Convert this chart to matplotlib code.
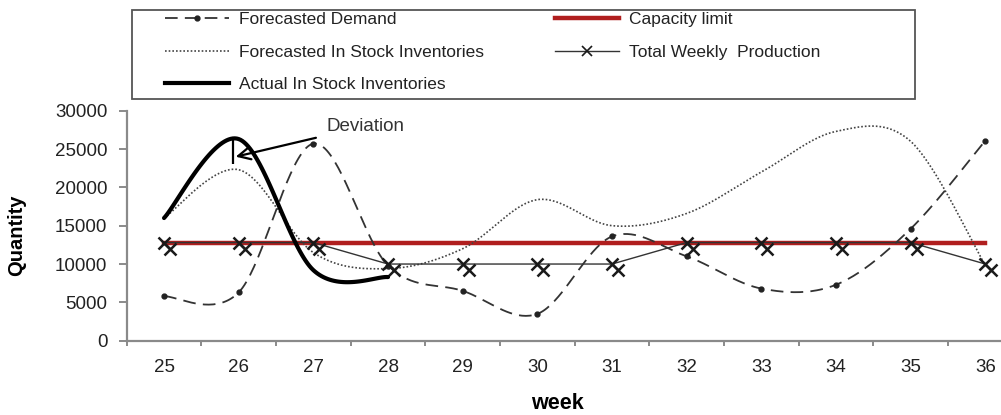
import numpy as np
import matplotlib
matplotlib.use("Agg")
import matplotlib.pyplot as plt
from matplotlib.lines import Line2D
from matplotlib.patches import Rectangle
from matplotlib.transforms import ScaledTranslation

plt.rcParams["font.family"] = ["Liberation Sans", "DejaVu Sans"]

weeks = [25, 26, 27, 28, 29, 30, 31, 32, 33, 34, 35, 36]
forecast_demand = [5800, 6300, 25700, 9800, 6500, 3500, 13600, 11000, 6800, 7300, 14600, 26100]
forecast_stock = [16000, 22300, 11500, 9400, 12000, 18400, 15000, 16600, 22000, 27300, 26000, 9800]
actual_weeks = [25, 26, 27, 28]
actual_stock = [16000, 26300, 9200, 8300]
weekly_production = [12800, 12800, 12800, 10000, 10000, 10000, 10000, 12800, 12800, 12800, 12800, 10000]
capacity_limit = 12800


def smooth(xs, ys, n=40):
    # bezier smoothing through every point, like a spreadsheet's smoothed line
    x = np.asarray(xs, float)
    y = np.asarray(ys, float)
    xp = np.r_[x[0], x, x[-1]]
    yp = np.r_[y[0], y, y[-1]]
    t = np.linspace(0, 1, n)[:, None]
    px, py = [], []
    for i in range(len(x) - 1):
        for src, out in ((xp, px), (yp, py)):
            p0, p1, p2, p3 = src[i:i + 4]
            c1 = p1 + (p2 - p0) / 6
            c2 = p2 - (p3 - p1) / 6
            seg = ((1 - t) ** 3 * p1 + 3 * (1 - t) ** 2 * t * c1
                   + 3 * (1 - t) * t ** 2 * c2 + t ** 3 * p2).ravel()
            out.extend(seg if i == 0 else seg[1:])
    return np.array(px), np.array(py)


fig = plt.figure(figsize=(10.01, 4.15), dpi=100)
W, H = 1001, 415
ax = fig.add_axes([126.7 / W, 1 - 340.7 / H, 896 / W, 230 / H])

ink = "#1a1a1a"
red = "#b01e1e"
dash_style = dict(color="#333333", lw=1.3, dashes=(7, 4))
dot_style = dict(color="#444444", lw=1.2, dashes=(1, 1.2))

# capacity line under the production series
ax.plot([weeks[0], weeks[-1]], [capacity_limit, capacity_limit], color=red, lw=3.2, zorder=2)

sx, sy = smooth(weeks, forecast_stock)
ax.plot(sx, sy, **dot_style, zorder=3)

dx, dy = smooth(weeks, forecast_demand)
ax.plot(dx, dy, **dash_style, zorder=3)
ax.plot(weeks, forecast_demand, ls="none", marker="o", ms=3.5, color="#222222", zorder=4)

ax.plot(weeks, weekly_production, color="#333333", lw=1.0, zorder=4)
ax.plot(weeks, weekly_production, ls="none", marker="x", ms=9, mew=1.8, color=ink, zorder=5)
shift = ax.transData + ScaledTranslation(6 / 100, -6 / 100, fig.dpi_scale_trans)
ax.plot(weeks, weekly_production, ls="none", marker="x", ms=9, mew=1.8, color=ink,
        transform=shift, zorder=5)

ax_, ay_ = smooth(actual_weeks, actual_stock)
ax.plot(ax_, ay_, color="black", lw=3.0, solid_capstyle="round", zorder=6)

# deviation between actual and forecast stock at week 26
ax.vlines(25.93, 23000, 26300, color="black", lw=1.6, zorder=7)
ax.annotate("Deviation", xy=(25.96, 24000), xytext=(27.18, 28000),
            fontsize=13.5, color="#333333", va="center", ha="left",
            arrowprops=dict(arrowstyle="->", color="black", lw=1.6,
                            mutation_scale=22, shrinkA=6, shrinkB=0), zorder=7)

ax.set_xlim(24.5, 36.5)
ax.set_ylim(0, 30000)
ax.set_yticks(np.arange(0, 30001, 5000))
ax.set_xticks(np.arange(24.5, 36.6, 1))
ax.set_xticklabels([])
ax.set_xticks(weeks, minor=True)
ax.set_xticklabels([str(w) for w in weeks], minor=True)

for side in ("top", "right"):
    ax.spines[side].set_visible(False)
for side in ("left", "bottom"):
    ax.spines[side].set_color("#8a8a8a")
    ax.spines[side].set_linewidth(1.6)

ax.tick_params(axis="y", direction="out", length=6, width=1.4, color="#8a8a8a",
               pad=8, labelsize=13.5, labelcolor="#222222")
ax.tick_params(axis="x", which="major", direction="out", length=3.5, width=1.4, color="#8a8a8a")
ax.tick_params(axis="x", which="minor", length=0, pad=13, labelsize=13.5, labelcolor="#222222")

ax.set_ylabel("Quantity", fontsize=14.5, fontweight="bold", va="center")
ax.yaxis.set_label_coords(-0.1224, 0.46)
ax.set_xlabel("week", fontsize=15.5, fontweight="bold", va="center")
ax.xaxis.set_label_coords(0.481, -0.271)

# legend, two columns inside a single frame
h_demand = Line2D([], [], **dash_style, marker="o", ms=3.5, mfc="#222222", mec="#222222")
h_stock = Line2D([], [], **dot_style)
h_actual = Line2D([], [], color="black", lw=3.0)
h_cap = Line2D([], [], color=red, lw=3.2)
h_prod = Line2D([], [], color="#333333", lw=1.0, marker="x", ms=7, mew=1.2, mec=ink)

leg_kw = dict(loc="upper left", frameon=False, fontsize=12.5, handlelength=3.7,
              handletextpad=0.55, labelspacing=1.0, borderpad=0, borderaxespad=0,
              numpoints=1, labelcolor="#222222")
leg1 = fig.legend([h_demand, h_stock, h_actual],
                  ["Forecasted Demand", "Forecasted In Stock Inventories", "Actual In Stock Inventories"],
                  bbox_to_anchor=(165 / W, 1 - 12 / H), **leg_kw)
leg2 = fig.legend([h_cap, h_prod], ["Capacity limit", "Total Weekly  Production"],
                  bbox_to_anchor=(555 / W, 1 - 12 / H), **leg_kw)

fig.patches.append(Rectangle((132 / W, 1 - 99 / H), (915 - 132) / W, 89 / H,
                             transform=fig.transFigure, fill=False,
                             edgecolor="#555555", lw=1.3))

fig.savefig("out.png", dpi=100)
